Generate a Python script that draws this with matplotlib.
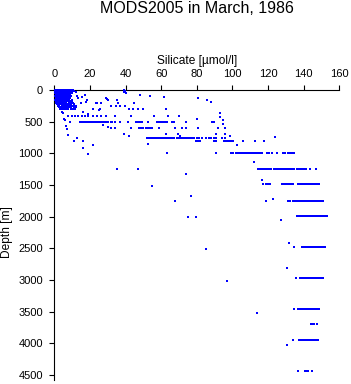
import matplotlib
matplotlib.use("Agg")
import matplotlib.pyplot as plt

plt.rcParams['font.family'] = ['Liberation Sans', 'DejaVu Sans']

# ---------------- data ----------------
title = "MODS2005 in March, 1986"
xlabel = "Silicate [\u00b5mol/l]"
ylabel = "Depth [m]"
xticks = [0, 20, 40, 60, 80, 100, 120, 140, 160]
yticks = [0, 500, 1000, 1500, 2000, 2500, 3000, 3500, 4000, 4500]

# near-surface cluster rows (depth -> silicate values)
blob_depths = [0, 10, 20, 30, 40, 50, 60, 75, 90, 100, 110, 125, 150, 175, 200, 225, 250, 275, 300]
blob_0 = [0.4, 1.0, 1.6, 2.2, 2.8, 3.4, 4.0, 4.7, 5.4, 6.1, 6.9, 7.7, 8.5, 9.4, 10.3]
blob_10 = [0.6, 1.3, 2.0, 2.9, 3.7, 4.6, 5.5, 6.5, 7.6, 8.8, 9.9]
blob_20 = [0.5, 1.2, 2.1, 3.2, 4.3, 5.2, 6.4, 7.3, 8.4, 10.8]
blob_30 = [0.8, 1.9, 2.6, 3.6, 4.9, 6.0, 7.1, 8.9, 12.2]
blob_40 = [0.5, 1.5, 2.9, 4.0, 5.3, 6.6, 7.5, 8.2, 9.8]
blob_50 = [0.4, 1.4, 2.4, 3.3, 4.4, 5.6, 6.7, 7.8, 9.2]
blob_60 = [1.0, 2.0, 3.0, 4.2, 5.1, 6.3, 7.2, 8.5]
blob_75 = [0.9, 1.8, 2.7, 3.9, 5.0, 6.2, 7.4, 8.6]
blob_90 = [0.5, 1.4, 2.3, 3.3, 4.3, 5.4, 6.6, 7.7, 8.9]
blob_100 = [0.7, 1.6, 2.5, 3.5, 4.6, 5.8, 7.0, 8.1, 9.6, 12.6]
blob_110 = [1.0, 2.1, 3.1, 4.0, 5.0, 6.0, 7.2, 8.3]
blob_125 = [1.1, 2.0, 3.0, 4.1, 5.3, 6.5, 7.6, 9.0]
blob_150 = [0.6, 1.5, 2.6, 3.8, 4.9, 6.1, 7.3, 8.4, 10.1]
blob_175 = [1.0, 2.0, 3.1, 4.2, 5.2, 6.4, 7.6, 8.8, 9.9]
blob_200 = [1.2, 2.3, 3.4, 4.5, 5.6, 6.8, 8.0, 9.3, 10.6]
blob_225 = [1.5, 2.6, 3.8, 4.9, 6.0, 7.2, 8.4, 9.6, 10.9]
blob_250 = [1.8, 2.9, 4.1, 5.2, 6.4, 7.6, 8.8, 10.0, 11.3, 12.4]
blob_275 = [2.4, 3.5, 4.7, 5.9, 7.1, 8.3, 9.5, 10.8, 12.0]
blob_300 = [3.2, 4.4, 5.5, 6.7, 7.9, 9.1, 10.4, 11.6]

# scattered individual samples
pts_si = [12.6, 17.2, 13.1, 15.4, 14.8, 18.2, 17.6, 23.2, 26.2, 29.8, 29.2, 30.0,
          21.9, 25.3, 19.1, 16.3, 5.0, 4.5,
          39.0, 39.6, 40.0, 39.3,
          48.1, 53.7, 61.8, 80.9, 85.9, 88.1,
          35.0, 35.8, 44.9, 23.8, 26.4,
          31.8, 34.4, 36.9, 39.9,
          25.7, 41.9, 44.2, 47.2, 50.0, 62.8,
          93.0, 93.0, 94.9, 94.9, 80.3, 6.0, 5.4,
          27.2, 30.2, 6.4, 7.0,
          39.1, 62.7, 69.5, 91.0, 95.8, 41.9, 70.6, 98.6, 7.9,
          12.9, 11.2, 16.2, 123.9,
          16.3, 21.9, 19.1, 52.8, 102.8,
          112.0,
          74.1, 55.0, 116.8,
          76.9, 67.9, 119.0, 123.0,
          74.9, 79.7, 127.0,
          85.0, 131.8, 134.8,
          130.8, 97.1, 135.9,
          114.0, 134.8,
          133.8, 130.8]
pts_d = [95, 84, 131, 110, 200, 158, 190, 200, 200, 147, 131, 165,
         305, 316, 384, 347, 358, 340,
         0, 15, 45, 30,
         79, 95, 108, 131, 163, 192,
         163, 200, 210, 210, 210,
         255, 255, 255, 255,
         305, 305, 305, 305, 305, 305,
         368, 430, 479, 542, 463, 475, 463,
         558, 589, 568, 621,
         700, 700, 700, 700, 700, 726, 726, 726, 710,
         750, 800, 810, 747,
         911, 873, 1016, 858, 863,
         1132,
         1332, 1516, 1421,
         1679, 1758, 1750, 1720,
         2011, 2011, 2058,
         2516, 2411, 2480,
         2816, 3021, 2974,
         3527, 3460,
         3942, 4031]

# standard-depth rows
row_depths = [405, 505, 605, 752, 805, 995, 1252, 1492, 1745, 1985, 2478, 2975, 3462, 3700, 3945, 4432]
row_400 = [7.9, 9.8, 11.6, 13.5, 15.4, 17.2, 19.1, 21.6, 23.8, 26.0, 29.0, 34.3, 43.2, 56.1, 64.0, 70.2]
row_500 = [8.8, 14.4, 15.4, 16.5, 17.5, 18.5, 19.5, 20.5, 21.5, 22.5, 23.5, 24.5, 25.5, 26.5,
           27.5, 28.5, 29.4, 30.3, 31.8, 32.6, 34.2, 36.9, 41.5, 45.9, 47.0, 48.1, 49.1, 52.8,
           57.5, 58.6, 59.7, 60.8, 61.9, 63.1, 66.0, 67.2, 74.0, 88.5, 89.8]
row_600 = [32.0, 34.3, 43.2, 47.7, 48.6, 49.6, 51.3, 52.5, 53.7, 54.7, 59.0, 67.5, 71.5, 74.0,
           80.6, 92.1, 95.8]
row_750 = [51.9, 52.9, 53.9, 54.9, 55.9, 56.9, 57.9, 58.9, 59.9, 61.0, 62.0, 63.1, 64.1, 65.2,
           66.3, 67.4, 68.7, 69.3, 70.4, 71.5, 72.6, 73.8, 74.9, 76.1, 77.3, 78.6, 80.0, 81.4,
           82.9, 85.2, 86.7, 88.2, 89.4, 90.6, 94.0, 95.7]
row_800 = [79.5, 80.9, 82.0, 89.5, 90.8, 95.5, 96.5, 97.5, 98.5, 99.5, 100.5, 106.1, 112.8, 117.9]
row_1000 = [63.1, 91.0, 99.2, 100.5, 101.8, 103.3, 104.3, 105.3, 106.3, 107.3, 108.3, 109.3,
            110.3, 111.3, 112.3, 113.3, 114.3, 115.3, 116.4, 119.3, 120.5, 122.1, 124.9, 128.2,
            129.5, 131.0, 132.3, 133.5, 134.8]
row_1250 = [35.4, 47.2, 114.5, 115.5, 116.5, 117.4, 118.3, 119.4, 120.5, 121.6, 123.4, 124.5,
            125.6, 126.7, 127.7, 128.2, 129.3, 130.4, 131.5, 132.5, 133.6, 134.6, 136.4, 137.4,
            138.4, 139.4, 140.3, 141.3, 143.6, 147.0]
row_1500 = [117.4, 118.6, 119.8, 121.1, 127.7, 128.6, 129.5, 130.5, 131.4, 132.3, 133.3, 134.2,
            136.7, 137.7, 138.7, 139.7, 140.7, 141.7, 142.7, 143.7, 144.7, 145.7, 146.7, 147.8, 148.8]
row_1750 = [131.4, 132.3, 134.2, 135.2, 136.4, 137.4, 138.4, 139.4, 140.4, 141.4, 142.4, 143.4,
            144.4, 145.4, 146.4, 147.4, 148.4, 149.5, 150.7]
row_2000 = [136.4, 137.4, 138.4, 139.4, 140.4, 141.4, 142.4, 143.4, 144.4, 145.4, 146.4, 147.4,
            148.4, 149.4, 150.4, 151.4, 152.3, 153.0]
row_2500 = [139.0, 140.0, 141.0, 142.0, 143.0, 144.0, 145.0, 146.0, 147.0, 148.0, 149.0, 150.0,
            151.0, 152.0]
row_3000 = [138.0, 138.8, 140.4, 141.4, 142.4, 143.4, 144.4, 145.4, 146.4, 147.4, 148.4, 149.6, 150.7]
row_3500 = [136.8, 137.8, 138.8, 139.8, 140.8, 141.8, 142.8, 143.8, 144.8, 145.8, 146.8, 147.7, 148.5]
row_3700 = [144.0, 145.0, 146.0, 147.5]
row_3950 = [137.6, 138.6, 139.6, 141.0, 142.0, 143.0, 144.0, 145.0, 146.0, 147.0, 148.0]
row_4420 = [136.8, 140.8, 142.0, 142.6, 144.9]

# ---------------- figure ----------------
W, H = 351, 384
fig = plt.figure(figsize=(W / 100, H / 100), dpi=100)
x0, x1 = 54.3, 339.3
ytop, ybot = 90.0, 380.0
ax = fig.add_axes([x0 / W, 1 - ybot / H, (x1 - x0) / W, (ybot - ytop) / H])

blob_rows = [blob_0, blob_10, blob_20, blob_30, blob_40, blob_50, blob_60, blob_75, blob_90,
             blob_100, blob_110, blob_125, blob_150, blob_175, blob_200, blob_225, blob_250,
             blob_275, blob_300]
all_rows = [row_400, row_500, row_600, row_750, row_800, row_1000, row_1250, row_1500,
            row_1750, row_2000, row_2500, row_3000, row_3500, row_3700, row_3950, row_4420]

mk = dict(linestyle='none', marker='s', ms=2.0, mew=0, color='#0000ff', clip_on=False, zorder=3)
for d, vals in zip(blob_depths, blob_rows):
    ax.plot(vals, [d] * len(vals), **mk)
for d, vals in zip(row_depths, all_rows):
    ax.plot(vals, [d] * len(vals), **mk)
ax.plot(pts_si, pts_d, **mk)

ax.set_xlim(0, 160)
ax.set_ylim(4500 * (ybot - ytop) / 285.0, 0)
ax.xaxis.tick_top()
ax.set_xticks(xticks)
ax.set_yticks(yticks)
ax.set_xticklabels([str(v) for v in xticks])
ax.set_yticklabels([str(v) for v in yticks])
for s in ['right', 'bottom']:
    ax.spines[s].set_visible(False)
for s in ['left', 'top']:
    ax.spines[s].set_linewidth(0.8)
ax.tick_params(axis='both', direction='out', length=3.6, width=0.8, labelsize=8, colors='black')
ax.tick_params(axis='x', pad=4.2)
ax.tick_params(axis='y', pad=4.6)

fig.text(197 / W, 1 - 13.3 / H, title, ha='center', va='baseline', fontsize=11.5)
fig.text(197 / W, 1 - 64 / H, xlabel, ha='center', va='baseline', fontsize=8.6)
fig.text(7.5 / W, 1 - 232.5 / H, ylabel, ha='center', va='center', rotation=90, fontsize=8.6)

fig.savefig("out.png", dpi=100)
